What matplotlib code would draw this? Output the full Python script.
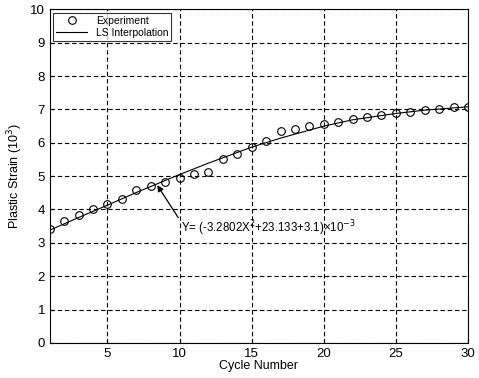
import numpy as np
import matplotlib.pyplot as plt

plt.rcParams['font.family'] = ['Liberation Sans', 'DejaVu Sans']

# measured plastic strain (x1e-3) per cycle
cycles = np.arange(1, 31)
strain = [3.41, 3.66, 3.83, 4.02, 4.16, 4.31, 4.59, 4.71, 4.81, 4.95,
          5.05, 5.12, 5.50, 5.65, 5.88, 6.05, 6.35, 6.42, 6.50, 6.57,
          6.63, 6.70, 6.78, 6.83, 6.88, 6.93, 6.98, 7.00, 7.06, 7.07]

# least-squares curve
fit_x = [1, 3, 5, 7, 10, 12, 15, 17, 20, 22, 25, 27, 30]
fit_y = [3.38, 3.76, 4.13, 4.51, 5.05, 5.39, 5.87, 6.14, 6.50, 6.69, 6.88, 6.98, 7.08]

fig = plt.figure(figsize=(4.79, 3.78), dpi=100)
ax = fig.add_axes([0.104, 0.093, 0.873, 0.882])

ax.plot(cycles, strain, 'o', mfc='none', mec='black', ms=5.5, mew=0.8,
        label='Experiment')
ax.plot(fit_x, fit_y, '-', color='black', lw=0.8, label='LS Interpolation')

ax.annotate('Y= (-3.2802X$^2$+23.133+3.1)×10$^{-3}$',
            xy=(8.45, 4.73), xytext=(10.1, 3.45),
            fontsize=8.3, va='center', ha='left',
            arrowprops=dict(arrowstyle='-|>', color='black', lw=0.9,
                            mutation_scale=9, shrinkA=0, shrinkB=0,
                            relpos=(0, 0.8)))

ax.set_xlim(1, 30)
ax.set_ylim(0, 10)
ax.set_xticks([5, 10, 15, 20, 25, 30])
ax.set_yticks(range(0, 11))
ax.tick_params(direction='in', labelsize=9.5, length=3)
ax.grid(True, color='black', linestyle=(0, (4, 2.5)), lw=0.8)

ax.set_xlabel('Cycle Number', fontsize=9, labelpad=0)
ax.set_ylabel('Plastic Strain (10$^3$)', fontsize=9, labelpad=4)

leg = ax.legend(loc='upper left', fontsize=7.5, frameon=True, fancybox=False,
                edgecolor='black', borderaxespad=0.3, handlelength=3,
                borderpad=0.3, labelspacing=0.2)
leg.get_frame().set_linewidth(0.8)

fig.savefig('out.png', dpi=100)
